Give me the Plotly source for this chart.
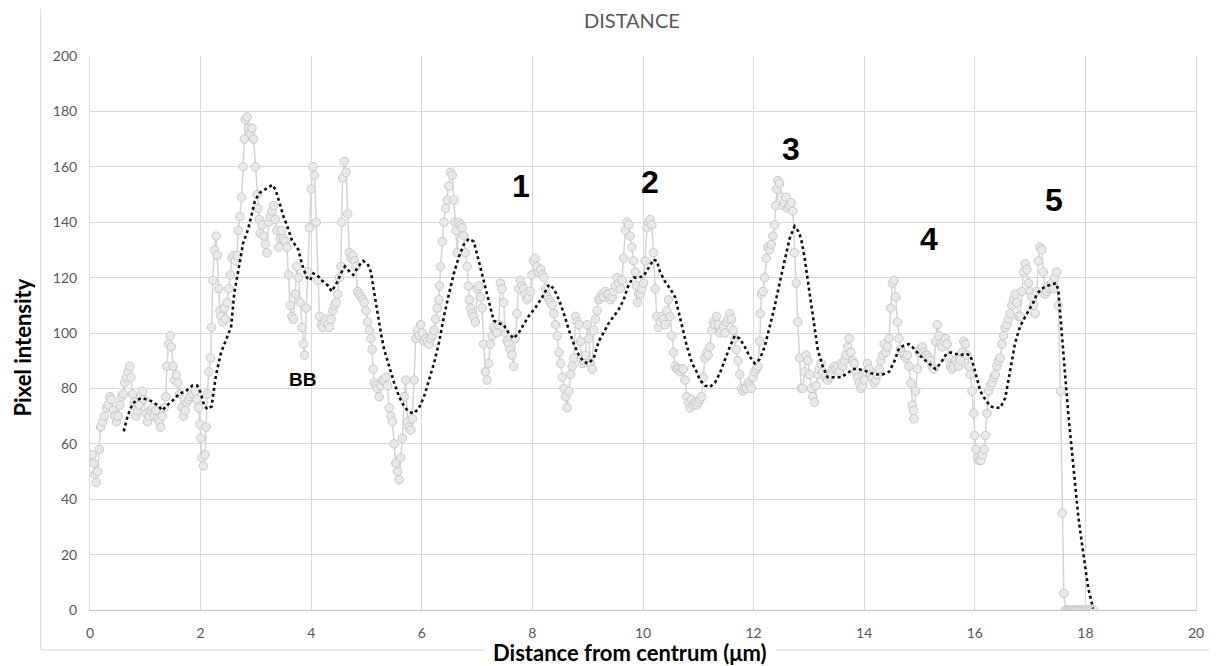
import plotly.graph_objects as go

# Intensity profile along the line scan (distance in µm, pixel intensity)
dist_um = [
    0.00, 0.04, 0.07, 0.09, 0.11, 0.14, 0.17, 0.19, 0.23, 0.26, 0.30, 0.33, 0.36, 0.39, 0.42, 0.45,
    0.48, 0.51, 0.54, 0.57, 0.60, 0.63, 0.66, 0.69, 0.72, 0.74, 0.77, 0.80, 0.83, 0.86, 0.89, 0.92,
    0.95, 0.98, 1.01, 1.04, 1.07, 1.10, 1.13, 1.16, 1.19, 1.22, 1.25, 1.28, 1.31, 1.34, 1.37,
    1.39, 1.42, 1.45, 1.47, 1.50, 1.53, 1.56, 1.59, 1.62, 1.66, 1.69, 1.72, 1.75, 1.78, 1.81, 1.85,
    1.90, 1.93, 1.96, 1.99, 2.00, 2.02, 2.05, 2.08, 2.10, 2.12, 2.15, 2.18, 2.20, 2.22, 2.25, 2.28, 2.30,
    2.33, 2.35, 2.37, 2.40, 2.43, 2.45, 2.48, 2.51, 2.54, 2.57, 2.60, 2.63, 2.66, 2.68, 2.71, 2.74,
    2.77, 2.79, 2.81, 2.84, 2.87, 2.90, 2.93, 2.96, 2.99, 3.02, 3.04, 3.06, 3.08, 3.11, 3.14, 3.17,
    3.20, 3.23, 3.26, 3.29, 3.32, 3.35, 3.38, 3.41, 3.44, 3.47, 3.50, 3.53, 3.56, 3.59, 3.62, 3.65,
    3.68, 3.71, 3.74, 3.77, 3.80, 3.83, 3.86, 3.88, 3.91, 3.94, 3.97,
    4.00, 4.03, 4.06, 4.09, 4.12, 4.15, 4.18, 4.21, 4.24, 4.27, 4.30, 4.33, 4.36, 4.39, 4.42, 4.45,
    4.48, 4.51, 4.54, 4.55, 4.57, 4.60, 4.63, 4.66, 4.69, 4.72, 4.75, 4.78, 4.81, 4.84, 4.87, 4.90,
    4.93, 4.96, 4.99, 5.02, 5.05, 5.08, 5.10, 5.12, 5.14, 5.17, 5.20, 5.23, 5.26, 5.29, 5.32, 5.35,
    5.38, 5.41, 5.44, 5.47, 5.50, 5.53, 5.56, 5.59, 5.62, 5.65, 5.68, 5.71, 5.74, 5.77, 5.80, 5.83,
    5.86, 5.89, 5.92, 5.95, 5.98,
    6.01, 6.04, 6.07, 6.10, 6.13, 6.16, 6.19, 6.22, 6.25, 6.28, 6.31, 6.32, 6.34, 6.37, 6.40, 6.43,
    6.46, 6.49, 6.52, 6.55, 6.58, 6.60, 6.62, 6.64, 6.67, 6.70, 6.73, 6.76, 6.79, 6.82, 6.84, 6.86,
    6.88, 6.91, 6.94, 6.97, 7.00, 7.03, 7.06, 7.09, 7.12, 7.15, 7.18, 7.21, 7.24, 7.27, 7.30, 7.33,
    7.36, 7.39, 7.42, 7.45, 7.48, 7.51, 7.54, 7.57, 7.60, 7.63, 7.66, 7.69, 7.72, 7.75, 7.78, 7.81,
    7.84, 7.87, 7.90, 7.93, 7.96, 7.99, 8.02, 8.05, 8.08,
    8.11, 8.15, 8.18, 8.21, 8.24, 8.27, 8.30, 8.33, 8.36, 8.39, 8.42, 8.45, 8.48, 8.51, 8.54, 8.57,
    8.60, 8.63, 8.66, 8.69, 8.72, 8.75, 8.78, 8.81, 8.84, 8.87, 8.90, 8.93, 8.96, 8.99, 9.02, 9.05,
    9.08, 9.11, 9.14, 9.17, 9.20, 9.23, 9.26, 9.29, 9.32, 9.35, 9.38, 9.41, 9.44, 9.47, 9.50, 9.53,
    9.56, 9.59, 9.62, 9.65, 9.68, 9.71, 9.74, 9.77, 9.80, 9.83, 9.86, 9.88, 9.90, 9.92, 9.95, 9.98,
    10.01, 10.04, 10.07, 10.10, 10.13, 10.16, 10.19, 10.22, 10.25, 10.28, 10.31, 10.34, 10.37, 10.40, 10.43, 10.46,
    10.49, 10.52, 10.55, 10.58, 10.61, 10.64, 10.67, 10.70, 10.73, 10.76, 10.79, 10.82, 10.85, 10.88, 10.91, 10.94,
    10.97, 11.00, 11.03, 11.06, 11.09, 11.12, 11.15, 11.18, 11.21, 11.24, 11.27, 11.30, 11.33, 11.36, 11.39, 11.42,
    11.45, 11.48, 11.51, 11.54, 11.57, 11.60, 11.63, 11.66, 11.69, 11.72, 11.75, 11.78, 11.81, 11.84, 11.87, 11.90,
    11.93, 11.96, 11.99,
    12.02, 12.05, 12.08, 12.11, 12.12, 12.14, 12.17, 12.20, 12.23, 12.26, 12.29, 12.32, 12.35, 12.38, 12.40, 12.42,
    12.44, 12.47, 12.50, 12.53, 12.56, 12.59, 12.62, 12.65, 12.68, 12.71, 12.74, 12.77, 12.80, 12.83, 12.86, 12.89,
    12.92, 12.95, 12.98, 13.01, 13.04, 13.07, 13.10, 13.13, 13.16, 13.19, 13.22, 13.25, 13.28, 13.31, 13.34, 13.37,
    13.40, 13.43, 13.46, 13.49, 13.52, 13.55, 13.58, 13.61, 13.64, 13.67, 13.70, 13.73, 13.76, 13.79, 13.82, 13.85,
    13.88, 13.91, 13.94, 13.97,
    14.00, 14.03, 14.06, 14.09, 14.12, 14.15, 14.18, 14.21, 14.24, 14.27, 14.30, 14.33, 14.36, 14.39, 14.42, 14.45,
    14.48, 14.51, 14.54, 14.57, 14.60, 14.63, 14.66, 14.69, 14.72, 14.75, 14.78, 14.81, 14.84, 14.87, 14.89, 14.90,
    14.93, 14.96, 14.99, 15.02, 15.05, 15.08, 15.11, 15.14, 15.17, 15.20, 15.23, 15.26, 15.29, 15.32, 15.35, 15.38,
    15.41, 15.44, 15.47, 15.50, 15.53, 15.56, 15.59, 15.62, 15.65, 15.68, 15.71, 15.74, 15.77, 15.80, 15.83, 15.86,
    15.89, 15.92, 15.95, 15.98,
    16.00, 16.02, 16.05, 16.08, 16.11, 16.14, 16.17, 16.19, 16.22, 16.25, 16.28, 16.31, 16.34, 16.37, 16.40, 16.43,
    16.46, 16.49, 16.52, 16.55, 16.58, 16.61, 16.64, 16.67, 16.70, 16.73, 16.76, 16.79, 16.82, 16.85, 16.88, 16.91,
    16.94, 16.97, 17.00, 17.03, 17.06, 17.09, 17.12, 17.15, 17.18, 17.21, 17.24, 17.27, 17.30, 17.33, 17.36, 17.39,
    17.42, 17.45, 17.48, 17.51, 17.55, 17.58, 17.61, 17.64, 17.67, 17.70, 17.73, 17.76, 17.79, 17.82, 17.85, 17.88,
    17.91, 17.94, 17.97, 18.00, 18.03, 18.06, 18.09, 18.12, 18.15,
]

intensity = [
    56, 56, 53, 49, 46, 50, 58, 66, 68, 70, 73, 74, 77, 76, 72, 70,
    68, 70, 74, 77, 78, 82, 84, 86, 88, 84, 78, 75, 70, 72, 74, 77,
    79, 76, 71, 68, 70, 72, 73, 70, 72, 69, 68, 66, 70, 73, 77,
    88, 96, 99, 95, 88, 83, 85, 82, 78, 73, 70, 72, 75, 76, 77, 78,
    79, 76, 73, 67, 62, 55, 52, 56, 66, 78, 86, 91, 102, 119, 130, 135, 128,
    116, 108, 106, 104, 109, 105, 111, 116, 121, 127, 128, 126, 128, 137, 142, 149,
    160, 170, 177, 178, 174, 172, 174, 170, 160, 150, 145, 141, 136, 139, 135, 132,
    129, 140, 142, 144, 146, 141, 137, 131, 134, 137, 134, 133, 131, 121, 110, 106,
    105, 114, 124, 120, 111, 102, 96, 92, 109, 122, 138,
    152, 160, 157, 140, 119, 106, 103, 102, 104, 105, 103, 102, 105, 108, 110, 111,
    114, 120, 124, 140, 156, 162, 158, 143, 129, 127, 128, 126, 124, 115, 114, 113,
    112, 111, 108, 104, 101, 98, 94, 87, 82, 81, 80, 77, 81, 83, 83, 84,
    81, 73, 70, 68, 60, 53, 50, 47, 55, 62, 77, 83, 68, 66, 65, 69,
    83, 98, 101, 99, 103,
    100, 97, 98, 97, 96, 98, 99, 101, 105, 109, 112, 117, 124, 133, 140, 145,
    148, 153, 158, 157, 148, 140, 137, 129, 140, 139, 138, 135, 129, 124, 117, 112,
    109, 107, 106, 104, 116, 117, 113, 109, 96, 86, 83, 89, 96, 99, 102, 101,
    100, 103, 118, 116, 111, 100, 97, 96, 94, 92, 88, 98, 107, 116, 119, 117,
    116, 114, 112, 113, 115, 121, 126, 127, 124,
    122, 123, 121, 120, 116, 113, 112, 111, 110, 107, 103, 99, 93, 89, 84, 80,
    77, 73, 79, 85, 88, 91, 106, 104, 103, 97, 89, 90, 92, 103, 98, 89,
    87, 101, 105, 108, 112, 113, 114, 113, 115, 114, 114, 112, 113, 115, 117, 120,
    118, 116, 119, 127, 137, 140, 139, 135, 131, 126, 122, 117, 111, 114, 114, 116,
    118, 126, 138, 140, 141, 139, 129, 116, 106, 102, 104, 106, 105, 103, 108, 112,
    106, 99, 93, 88, 87, 87, 86, 87, 87, 83, 77, 75, 73, 76, 74, 75,
    74, 75, 76, 77, 84, 91, 93, 92, 95, 101, 104, 103, 106, 103, 100, 101,
    102, 100, 104, 105, 107, 105, 101, 98, 94, 90, 85, 80, 79, 80, 80, 82,
    81, 80, 84,
    86, 87, 88, 97, 107, 114, 115, 120, 127, 131, 130, 132, 135, 139, 146, 152,
    155, 154, 149, 146, 147, 149, 145, 146, 147, 144, 129, 118, 104, 91, 80, 80,
    86, 92, 90, 85, 80, 77, 75, 81, 85, 87, 89, 86, 84, 85, 83, 84,
    85, 87, 88, 87, 88, 86, 89, 88, 90, 92, 95, 98, 93, 90, 89, 86,
    84, 82, 80, 81,
    83, 86, 89, 87, 85, 84, 82, 83, 85, 87, 90, 92, 96, 93, 95, 98,
    109, 118, 119, 113, 104, 98, 94, 93, 92, 91, 92, 88, 82, 74, 72, 69,
    79, 87, 93, 94, 95, 93, 92, 92, 91, 90, 88, 87, 97, 103, 99, 96,
    95, 97, 98, 96, 91, 88, 87, 88, 90, 89, 88, 90, 93, 97, 96, 92,
    88, 85, 79, 71,
    63, 58, 55, 54, 54, 56, 58, 63, 71, 79, 81, 82, 84, 85, 88, 90,
    91, 96, 99, 102, 103, 105, 107, 110, 112, 114, 111, 106, 106, 115, 122, 125,
    123, 118, 115, 113, 110, 107, 115, 126, 131, 130, 122, 114, 115, 117, 116, 118,
    116, 120, 122, 110, 79, 35, 6, 0, 0, 0, 0, 0, 0, 0, 0, 0,
    0, 0, 0, 0, 0, 0, 0, 0, 0,
]

# Moving-average trendline of the profile
trend_x = [
    0.61, 0.68, 0.77, 0.86, 0.95, 1.05, 1.10, 1.22, 1.31, 1.37, 1.49, 1.61, 1.73, 1.85, 1.94, 2.00,
    2.06, 2.12, 2.20, 2.23, 2.28, 2.37, 2.46, 2.55, 2.61, 2.70, 2.77, 2.86, 2.92, 2.98, 3.06, 3.18,
    3.30, 3.36, 3.42, 3.50, 3.56, 3.65, 3.77, 3.83, 3.92, 3.98, 4.04, 4.10, 4.19, 4.31, 4.37, 4.46,
    4.55, 4.61, 4.70, 4.76, 4.85, 4.94, 5.02, 5.08, 5.14, 5.20, 5.26, 5.32, 5.41, 5.50, 5.59, 5.68,
    5.77, 5.86, 5.95, 6.04, 6.13, 6.22, 6.31, 6.40, 6.49, 6.58, 6.67, 6.76, 6.85, 6.94, 7.03, 7.12,
    7.21, 7.30, 7.39, 7.48, 7.57, 7.66, 7.75, 7.84, 7.93, 8.05, 8.18, 8.30, 8.39, 8.48, 8.57, 8.66,
    8.75, 8.84, 8.93, 9.02, 9.11, 9.20, 9.29, 9.38, 9.47, 9.56, 9.65, 9.74, 9.83, 9.92, 10.01, 10.10,
    10.19, 10.25, 10.31, 10.40, 10.49, 10.58, 10.64, 10.70, 10.79, 10.88, 10.97, 11.03, 11.12, 11.21, 11.30, 11.39,
    11.48, 11.57, 11.66, 11.75, 11.84, 11.93, 12.02, 12.11, 12.20, 12.29, 12.38, 12.47, 12.56, 12.65, 12.74, 12.80,
    12.86, 12.92, 12.98, 13.04, 13.10, 13.16, 13.25, 13.34, 13.46, 13.58, 13.70, 13.79, 13.88, 14.00, 14.12, 14.24,
    14.33, 14.45, 14.54, 14.63, 14.72, 14.81, 14.87, 14.96, 15.05, 15.14, 15.23, 15.29, 15.38, 15.47, 15.56, 15.65,
    15.74, 15.83, 15.92, 15.98, 16.04, 16.10, 16.19, 16.28, 16.37, 16.46, 16.55, 16.61, 16.67, 16.73, 16.82, 16.91,
    17.00, 17.06, 17.12, 17.21, 17.30, 17.39, 17.47, 17.51, 17.57, 17.63, 17.69, 17.75, 17.81, 17.87, 17.93, 17.99,
    18.05, 18.14,
]

trend_y = [
    64.5, 70, 74.5, 76, 76.5, 76, 75.5, 74, 72, 73.5, 75.5, 78, 79, 81, 81, 78.5,
    74, 72.5, 73.5, 78, 85, 93, 97.5, 102, 114.5, 124, 132.5, 137.5, 142, 147.5, 150.5, 152,
    153.5, 151.5, 147, 142, 139, 133.5, 130, 125, 120, 119, 121.5, 121, 119, 117, 115, 118,
    122, 124, 122, 121, 124, 126, 125, 122, 114.5, 107, 100, 94, 88, 82, 77, 73.5,
    71.5, 71, 73, 77, 83, 89, 96.5, 106, 114, 121.5, 127.5, 132, 134, 133, 126, 119,
    112, 104.5, 103.5, 103, 100, 98, 100, 103, 106, 109, 113, 117.5, 116, 112, 107, 101,
    96, 92, 89.5, 89, 91, 97, 100.5, 103.5, 106, 108.5, 112, 117.5, 120, 120, 120.5, 123.5,
    126.5, 126, 122, 118.5, 116, 113, 108, 102, 95.5, 89.5, 86, 83, 81, 80.5, 82, 85.5,
    90.5, 95, 99, 98, 95, 91.5, 89, 90.5, 95, 102, 109.5, 118, 126.5, 134, 138.5, 137,
    134, 127.5, 119, 111, 102.5, 94, 88, 84, 84, 84, 85.5, 87, 87, 86.5, 85.5, 85,
    85, 86, 89.5, 94.5, 95.5, 96, 95, 93, 91, 89.5, 88, 87, 89, 92, 93, 92.5,
    92, 92.5, 92, 88, 83, 79, 76, 73.5, 73, 73, 76.5, 83, 90, 96.5, 102.5, 106,
    109, 111, 114, 116, 117, 117.5, 118, 115.5, 100, 84, 71, 58.5, 46.5, 34, 25, 16.5,
    8, 0.5,
]

# Peak labels and the basal body marker
label_text = ["1", "2", "3", "4", "5"]
label_x = [7.79, 10.13, 12.68, 15.17, 17.43]
label_y = [153, 154.5, 166.5, 134, 148]
bb_text, bb_x, bb_y = "BB", 3.85, 83.3

assert len(dist_um) == len(intensity)
assert len(trend_x) == len(trend_y)

GRID = "#d9d9d9"
TICK_GRAY = "#595959"
TICK_FONT = dict(family="Lato, Open Sans, sans-serif", size=14, color=TICK_GRAY)

fig = go.Figure()

fig.add_trace(go.Scatter(
    x=dist_um, y=intensity, mode="lines+markers",
    line=dict(color="#d4d4d4", width=1.5),
    marker=dict(symbol="circle", size=8.5, color="#e9e9e9",
                line=dict(color="#c9c9c9", width=1)),
    showlegend=False, hoverinfo="x+y",
))

fig.add_trace(go.Scatter(
    x=trend_x, y=trend_y, mode="lines",
    line=dict(color="#111111", width=2.6, dash="dot"),
    showlegend=False, hoverinfo="skip",
))

for t, x, y in zip(label_text, label_x, label_y):
    fig.add_annotation(x=x, y=y, text=f"<b>{t}</b>", showarrow=False,
                       font=dict(family="Liberation Sans, Arial, sans-serif", size=32, color="black"))
fig.add_annotation(x=bb_x, y=bb_y, text=f"<b>{bb_text}</b>", showarrow=False,
                   font=dict(family="Liberation Sans, Arial, sans-serif", size=19, color="black"))

# Chart titles
fig.add_annotation(xref="paper", yref="paper", x=0.490, y=1.065, text="DISTANCE",
                   showarrow=False, xanchor="center", yanchor="middle",
                   font=dict(family="Lato, Open Sans, sans-serif", size=20, color=TICK_GRAY))
fig.add_annotation(xref="paper", yref="paper", x=0.488, y=-0.0765,
                   text="<b>Distance from centrum (μm)</b>", showarrow=False,
                   xanchor="center", yanchor="middle", borderpad=0,
                   font=dict(family="Lato, Open Sans, sans-serif", size=22, color="black"))
fig.add_annotation(xref="paper", yref="paper", x=-0.061, y=0.473,
                   text="<b>Pixel intensity</b>", showarrow=False, textangle=-90,
                   xanchor="center", yanchor="middle",
                   font=dict(family="Lato, Open Sans, sans-serif", size=22, color="black"))

# Outer chart frame: left edge, and bottom edge broken around the x-axis title
frame = dict(color=GRID, width=1)
fig.add_shape(type="line", xref="paper", yref="paper", x0=-0.0446, x1=-0.0446,
              y0=1.0848, y1=-0.0722, line=frame, layer="below")
fig.add_shape(type="line", xref="paper", yref="paper", x0=-0.0446, x1=0.357,
              y0=-0.0722, y1=-0.0722, line=frame, layer="below")
fig.add_shape(type="line", xref="paper", yref="paper", x0=0.621, x1=1.0117,
              y0=-0.0722, y1=-0.0722, line=frame, layer="below")

fig.update_xaxes(
    range=[0, 20], tick0=0, dtick=2, showgrid=True, gridcolor=GRID, gridwidth=1,
    zeroline=False, showline=True, linecolor="#c4c4c4", linewidth=1,
    ticks="outside", ticklen=10, tickcolor="rgba(0,0,0,0)", tickfont=TICK_FONT,
)
fig.update_yaxes(
    range=[0, 200], tick0=0, dtick=20, showgrid=True, gridcolor=GRID, gridwidth=1,
    zeroline=False, showline=True, linecolor=GRID, linewidth=1, mirror=True,
    ticks="outside", ticklen=9, tickcolor="rgba(0,0,0,0)", tickfont=TICK_FONT,
)

fig.update_layout(
    width=1216, height=666,
    margin=dict(l=89.5, r=17, t=56, b=56),
    paper_bgcolor="white", plot_bgcolor="white",
    showlegend=False,
)

fig.write_html("out.html")
